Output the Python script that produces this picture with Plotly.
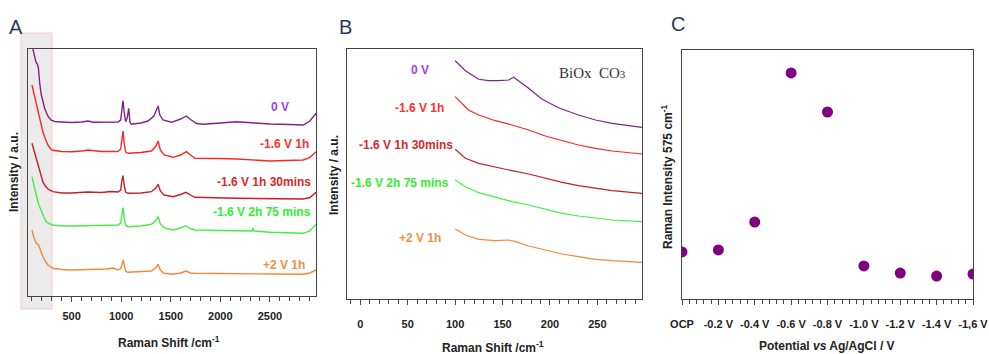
import plotly.graph_objects as go

# ---------------- DATA ----------------
# Panel A: Raman spectra (x in cm-1, intensity in arbitrary offset units)
a_0V_x = [100, 120, 140, 155, 165, 180, 195, 227, 260, 290, 330, 400, 500, 600, 665, 720, 850, 968, 995, 1008, 1018, 1030, 1045, 1060, 1076, 1088, 1103, 1200, 1271, 1330, 1360, 1372, 1390, 1422, 1507, 1600, 1658, 1700, 1760, 1826, 2000, 2163, 2350, 2500, 2700, 2836, 2904, 2965]
a_0V_y = [251, 241, 234, 232, 228, 211, 201, 188, 180, 176, 174.5, 174, 173.5, 174, 175, 173.7, 174, 174, 176, 188, 195.3, 184, 174.3, 178, 187.7, 174, 171.7, 173, 175, 180, 188, 190, 181, 176, 173.7, 177, 180, 176.5, 172.5, 171.7, 173, 174.3, 173, 172, 171.5, 171, 175, 182.7]

a_1h_x = [100, 130, 160, 185, 210, 235, 261, 290, 311, 400, 500, 600, 665, 800, 968, 995, 1008, 1018, 1030, 1045, 1069, 1200, 1305, 1350, 1372, 1395, 1432, 1523, 1600, 1658, 1700, 1742, 2000, 2163, 2500, 2836, 2904, 2965]
a_1h_y = [211, 198, 184.3, 174, 164.3, 157, 151, 147, 145.7, 144.5, 144.3, 145, 146, 144.5, 144.5, 147, 159, 165, 153, 144, 142.7, 143.5, 145, 150, 155, 146, 141, 138.7, 141, 144.3, 141, 137.7, 137.5, 137, 135, 136, 138.5, 144.3]

a_1h30_x = [100, 130, 160, 185, 210, 235, 261, 311, 400, 500, 665, 800, 900, 968, 995, 1008, 1018, 1030, 1045, 1069, 1200, 1305, 1350, 1372, 1395, 1432, 1523, 1600, 1652, 1700, 1742, 2163, 2500, 2836, 2904, 2965]
a_1h30_y = [152.7, 142, 131, 122, 114.3, 110, 107, 104.3, 103, 103, 104, 103.5, 104.5, 104, 106, 116, 120.3, 111, 104, 102.7, 103, 104.3, 108, 111.7, 105, 101, 99.3, 101.5, 103.7, 101, 98.7, 97.7, 97, 97, 98.5, 103.7]

a_2h75_x = [100, 120, 143, 170, 194, 220, 244, 280, 311, 400, 500, 665, 900, 968, 995, 1008, 1018, 1030, 1045, 1069, 1200, 1305, 1350, 1372, 1395, 1432, 1523, 1600, 1652, 1700, 1742, 2163, 2320, 2330, 2340, 2500, 2836, 2904, 2965]
a_2h75_y = [119.3, 110, 101, 91, 84.3, 79, 74.3, 72, 71, 70, 70, 70.5, 70.5, 71, 73, 84, 88.3, 78, 70.5, 69.3, 70, 71.7, 75.5, 79.3, 72, 68.3, 66, 68, 70.3, 67.5, 66, 65.3, 65, 68, 65, 63.7, 62.7, 65, 71.7]

a_p2_x = [100, 120, 143, 167, 190, 210, 235, 261, 311, 400, 500, 665, 850, 918, 968, 995, 1010, 1022, 1035, 1050, 1069, 1200, 1305, 1350, 1372, 1395, 1432, 1523, 1600, 1652, 1700, 1742, 2163, 2500, 2836, 2904, 2965]
a_p2_y = [66, 58, 52.7, 51, 45, 39.3, 34.5, 31, 27.7, 26.5, 26, 26.5, 27, 28, 26, 27.5, 33, 36, 29, 24.5, 23.7, 24.5, 25, 28.5, 31.7, 26, 22.7, 21.7, 23, 25, 23, 22.7, 22.7, 22, 21.7, 23, 26]

# Panel B: low-wavenumber region
b_x = [100, 110.8, 124.8, 135, 146, 156.5, 161.7, 167, 177.5, 191.7, 209, 230, 248, 265.5, 279.5, 297]
b_0V_y = [238.3, 228.3, 219.7, 218.3, 218.3, 219, 221.7, 218.3, 210.7, 199.7, 191.3, 184, 179, 175.7, 174, 171.7]
b_x2 = [100, 114, 124.8, 142.4, 160, 177.5, 195, 212.8, 230, 248, 265.5, 297]
b_1h_y = [202.3, 189, 184, 178.3, 174, 169, 163, 158.3, 154, 150.7, 148, 145]
b_x3 = [100, 110.8, 124.8, 142.4, 160, 177.5, 195, 212.8, 230, 248, 265.5, 297]
b_1h30_y = [149.7, 140.7, 135.7, 131.7, 128.3, 125, 120.7, 116.7, 113.3, 110.7, 108.3, 105.7]
b_2h75_y = [119, 112.3, 106.3, 101.7, 97.3, 94, 89.7, 85.7, 83, 80.7, 79, 77.3]
b_x5 = [100, 110.8, 124.8, 142.4, 156.5, 163.5, 177.5, 195, 212.8, 230, 248, 265.5, 297]
b_p2_y = [70, 64, 59.7, 58.3, 59, 57.3, 53, 49, 45, 42.3, 39.7, 38.3, 36.7]

# Panel C: Raman intensity at 575 cm-1 vs potential
c_labels = ["OCP", "-0.2 V", "-0.4 V", "-0.6 V", "-0.8 V", "-1.0 V", "-1.2 V", "-1.4 V", "-1,6 V"]
c_values = [18.9, 19.7, 30.9, 90.8, 75.1, 13.3, 10.4, 9.2, 10.0]

series_names = ["0 V", "-1.6 V 1h", "-1.6 V 1h 30mins", "-1.6 V 2h 75 mins", "+2 V 1h"]

# ---------------- STYLE / LAYOUT ----------------
W, H = 989, 354
def fx(p):
    return p / W
def fy(p):
    return 1 - p / H

line_cols = ["#82208C", "#FF2424", "#C81E24", "#44EE44", "#F5873A"]
label_cols = ["#A040F0", "#FF3030", "#D42A2A", "#33EE33", "#F09040"]
FONT = "Liberation Sans, Arial, sans-serif"
AXC = "#444444"

fig = go.Figure()

a_series = [(a_0V_x, a_0V_y), (a_1h_x, a_1h_y), (a_1h30_x, a_1h30_y), (a_2h75_x, a_2h75_y), (a_p2_x, a_p2_y)]
for (xs, ys), c, n in zip(a_series, line_cols, series_names):
    fig.add_trace(go.Scatter(x=xs, y=ys, mode="lines", line=dict(color=c, width=1.4),
                             name=n, xaxis="x", yaxis="y", showlegend=False))

b_series = [(b_x, b_0V_y), (b_x2, b_1h_y), (b_x3, b_1h30_y), (b_x3, b_2h75_y), (b_x5, b_p2_y)]
for (xs, ys), c, n in zip(b_series, line_cols, series_names):
    fig.add_trace(go.Scatter(x=xs, y=ys, mode="lines", line=dict(color=c, width=1.2),
                             name=n, xaxis="x2", yaxis="y2", showlegend=False))

fig.add_trace(go.Scatter(x=list(range(len(c_labels))), y=c_values, mode="markers",
                         marker=dict(color="#800080", size=11), xaxis="x3", yaxis="y3",
                         showlegend=False, cliponaxis=True))

tickfont = dict(family=FONT, size=11, color="#222222", weight="bold")
common_x = dict(showgrid=False, zeroline=False, showline=True, mirror=True, linecolor=AXC,
                linewidth=1, ticks="outside", ticklen=5, tickcolor=AXC, tickfont=tickfont,
                automargin=False)
common_y = dict(showgrid=False, zeroline=False, showline=True, mirror=True, linecolor=AXC,
                linewidth=1, ticks="", showticklabels=False, automargin=False)

fig.update_layout(
    width=W, height=H, margin=dict(l=0, r=0, t=0, b=0, autoexpand=False),
    paper_bgcolor="white", plot_bgcolor="rgba(0,0,0,0)",
    xaxis=dict(domain=[fx(28), fx(316)], range=[60, 2965], tick0=0, dtick=500,
               minor=dict(dtick=100, tick0=0, ticks="outside", ticklen=4, tickcolor=AXC),
               ticklabelstandoff=5, anchor="y", **common_x),
    yaxis=dict(domain=[fy(296), fy(49)], range=[0, 247], anchor="x", **common_y),
    xaxis2=dict(domain=[fx(347), fx(642)], range=[-14, 297], tick0=0, dtick=50,
                minor=dict(dtick=10, tick0=0, ticks="outside", ticklen=4, tickcolor=AXC),
                ticklabelstandoff=10, anchor="y2", **common_x),
    yaxis2=dict(domain=[fy(299), fy(49)], range=[0, 250], anchor="x2", **common_y),
    xaxis3=dict(domain=[fx(682), fx(973)], range=[0, 8], tickvals=list(range(len(c_labels))),
                ticktext=c_labels,
                minor=dict(dtick=0.2, tick0=0, ticks="outside", ticklen=4, tickcolor=AXC),
                ticklabelstandoff=10, anchor="y3", **common_x),
    yaxis3=dict(domain=[fy(299), fy(50)], range=[0, 100], anchor="x3", **common_y),
)

# grey highlight box in panel A
fig.add_shape(type="rect", xref="paper", yref="paper", x0=fx(21), x1=fx(52), y0=fy(309), y1=fy(33),
              fillcolor="#EBEBEB", line=dict(color="#F6C9C9", width=1), layer="below")

ann = []
def text(x, y, s, size=12, color="#222222", xanchor="center", family=FONT, angle=0, bold=True):
    ann.append(dict(x=fx(x), y=fy(y), xref="paper", yref="paper", text=s, showarrow=False,
                    xanchor=xanchor, yanchor="middle", textangle=angle,
                    font=dict(family=family, size=size, color=color, weight="bold" if bold else "normal")))

# panel letters
text(16, 27, "A", size=20, color="#1F3A60", bold=False)
text(345, 27, "B", size=20, color="#1F3A60", bold=False)
text(678, 24, "C", size=20, color="#1F3A60", bold=False)

# axis titles
text(169, 342, "Raman Shift /cm<sup>-1</sup>")
text(493, 347, "Raman Shift /cm<sup>-1</sup>")
text(827, 346, "Potential <i>vs</i> Ag/AgCl / V")
text(14, 172, "Intensity / a.u.", angle=-90)
text(334, 175, "Intensity / a.u.", angle=-90)
text(667, 177, "Raman Intensity 575 cm<sup>-1</sup>", angle=-90)

# series labels panel A (right aligned)
a_lab_pos = [(291, 107), (311, 144), (313, 182), (313, 212), (307, 265)]
for (x, y), s, c in zip(a_lab_pos, series_names, label_cols):
    text(x, y, s, color=c, xanchor="right")

# series labels panel B (centered)
b_lab_pos = [(420, 70), (419, 108), (406, 145), (400, 183), (420, 238)]
for (x, y), s, c in zip(b_lab_pos, series_names, label_cols):
    text(x, y, s, color=c)

text(592, 73, "BiOx  CO<span style='font-size:11px'>3</span>", size=15, color="#333333",
     family="Liberation Serif, Times New Roman, serif", bold=False)

fig.update_layout(annotations=ann)
fig.write_html("out.html", config={"displayModeBar": False},
               post_script="document.body.style.margin='0';document.body.style.overflow='hidden';")
